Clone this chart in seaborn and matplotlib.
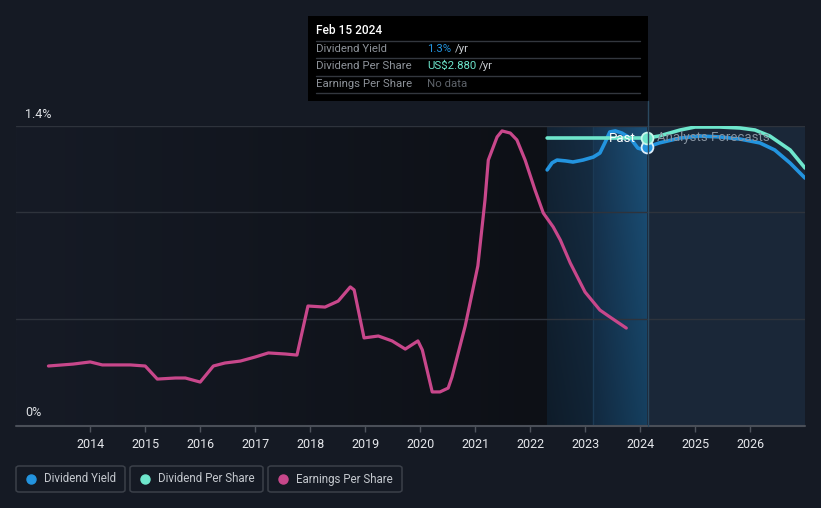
import numpy as np
import pandas as pd
import matplotlib
matplotlib.use("Agg")
import matplotlib.pyplot as plt
import seaborn as sns
from matplotlib.patches import Rectangle, FancyBboxPatch
from matplotlib.lines import Line2D
from matplotlib.colors import to_rgb

# ---------------- data ----------------
# Dividend Yield (%)
dy_years = [2022.31, 2022.40, 2022.49, 2022.65, 2022.78, 2022.96, 2023.15, 2023.27, 2023.36,
            2023.45, 2023.55, 2023.67, 2023.82, 2023.96, 2024.05, 2024.13,
            2024.35, 2024.73, 2025.09, 2025.45, 2025.82, 2026.18, 2026.45, 2026.73, 2027.0]
dy_values = [1.195, 1.228, 1.241, 1.237, 1.232, 1.241, 1.255, 1.274, 1.321,
             1.372, 1.377, 1.367, 1.344, 1.297, 1.290, 1.302,
             1.321, 1.344, 1.353, 1.349, 1.339, 1.321, 1.288, 1.227, 1.157]

# Dividend Per Share (US$)
dps_years = [2022.31, 2023.0, 2023.6, 2024.13, 2024.35, 2024.73, 2025.0, 2025.45,
             2025.82, 2026.09, 2026.36, 2026.73, 2027.0]
dps_values = [2.88, 2.88, 2.88, 2.88, 2.90, 2.96, 2.99, 2.99,
              2.98, 2.96, 2.90, 2.76, 2.58]

# Earnings Per Share (relative scale, no axis shown)
eps_years = [2013.24, 2013.69, 2014.0, 2014.22, 2014.73, 2015.0, 2015.22, 2015.55, 2015.73,
             2016.0, 2016.24, 2016.45, 2016.73, 2017.0, 2017.24, 2017.55, 2017.76, 2017.96,
             2018.27, 2018.51, 2018.73, 2018.8, 2018.98, 2019.24, 2019.49, 2019.73, 2019.96,
             2020.04, 2020.22, 2020.36, 2020.51, 2020.58, 2020.82, 2021.05, 2021.18, 2021.24,
             2021.4, 2021.49, 2021.64, 2021.76, 2021.91, 2022.09, 2022.24, 2022.42, 2022.55,
             2022.73, 2023.0, 2023.27, 2023.45, 2023.75]
eps_values = [0.280, 0.289, 0.299, 0.285, 0.285, 0.280, 0.219, 0.224, 0.224,
              0.205, 0.280, 0.294, 0.303, 0.322, 0.341, 0.336, 0.331, 0.560,
              0.555, 0.583, 0.649, 0.635, 0.411, 0.420, 0.397, 0.359, 0.397,
              0.355, 0.159, 0.159, 0.177, 0.229, 0.467, 0.747, 1.055, 1.241,
              1.349, 1.377, 1.367, 1.335, 1.241, 1.101, 0.994, 0.929, 0.868,
              0.761, 0.625, 0.541, 0.509, 0.457]

year_ticks = list(range(2014, 2027))
series_names = ["Dividend Yield", "Dividend Per Share", "Earnings Per Share"]

past_start = 2022.31
mid_split = 2023.15
today = 2024.13

# ---------------- style ----------------
BG = "#151a24"
BLUE = "#2394df"
TEAL = "#6ee6cc"
PINK = "#c8478b"

sns.set_theme(style="dark")
plt.rcParams["font.family"] = ["Roboto", "DejaVu Sans"]

W, H = 821, 508
fig = plt.figure(figsize=(W / 100, H / 100), dpi=100, facecolor=BG)

def fx(px):
    return px / W

def fy(py):
    return (H - py) / H

ax = fig.add_axes([fx(16), fy(426), fx(805) - fx(16), fy(126) - fy(426)])
ax.set_facecolor(BG)
xmin, xmax = 2012.65, 2027.0
ax.set_xlim(xmin, xmax)
ax.set_ylim(0, 1.4)
for s in ax.spines.values():
    s.set_visible(False)
ax.grid(False)

# background gradient (left lighter -> darker near 2022)
c0, c1 = np.array(to_rgb("#161b26")), np.array(to_rgb("#0d1016"))
t = np.linspace(0, 1, 200)[None, :, None]
grad = c0 + (c1 - c0) * t
ax.imshow(grad, extent=(xmin, past_start, 0, 1.4), aspect="auto", zorder=0, interpolation="bilinear")

# past shaded regions
def region(cl, cr, ctop_boost=1.08, cbot=0.85, n=100):
    cl, cr = np.array(to_rgb(cl)), np.array(to_rgb(cr))
    tx = np.linspace(0, 1, n)[None, :, None]
    ty = np.linspace(ctop_boost, cbot, n)[:, None, None]
    img = (cl + (cr - cl) * tx) * ty
    return np.clip(img, 0, 1)

ax.imshow(region("#112131", "#142a3f"), extent=(past_start, mid_split, 0, 1.4),
          aspect="auto", zorder=0.5, interpolation="bilinear")
ax.imshow(region("#15304a", "#194a6f"), extent=(mid_split, today, 0, 1.4),
          aspect="auto", zorder=0.5, interpolation="bilinear")
ax.axvline(mid_split, color="#1b3a55", lw=1, zorder=0.6)
ax.axvspan(today, xmax, color="#1a2738", zorder=0.5, lw=0)

# grid lines
for yv in [0.5, 1.0, 1.4]:
    ax.axhline(yv, color="#2e333c", lw=1, zorder=1)
ax.axhline(0, color="#4a4f58", lw=1.5, zorder=1, clip_on=False)

# lines
eps_df = pd.DataFrame({"year": eps_years, "value": eps_values})
dy_df = pd.DataFrame({"year": dy_years, "value": dy_values})
dps_df = pd.DataFrame({"year": dps_years, "value": dps_values})

sns.lineplot(data=eps_df, x="year", y="value", ax=ax, color=PINK, lw=2.3,
             solid_joinstyle="round", solid_capstyle="round", zorder=3, sort=False)
sns.lineplot(data=dy_df, x="year", y="value", ax=ax, color=BLUE, lw=2.6,
             solid_joinstyle="round", solid_capstyle="round", zorder=4, sort=False)

ax2 = ax.twinx()
ax2.set_ylim(0, 3.0)
ax2.set_xlim(xmin, xmax)
for s in ax2.spines.values():
    s.set_visible(False)
ax2.set_yticks([])
ax2.grid(False)
sns.lineplot(data=dps_df, x="year", y="value", ax=ax2, color=TEAL, lw=2.6,
             solid_joinstyle="round", solid_capstyle="round", zorder=4, sort=False)
ax2.set_ylabel("")
ax2.set_xlabel("")

# markers at today
ax.plot([today], [dy_values[dy_years.index(today)]], "o", ms=8.5, mfc=BLUE,
        mec="#dfeefa", mew=1.3, zorder=6)
ax2.plot([today], [dps_values[dps_years.index(today)]], "o", ms=8.5, mfc=TEAL,
         mec="#c9f6ec", mew=1.3, zorder=6)

# Past / Analysts Forecasts labels
ax2.text(today - 0.2, 2.88, "Past", color="white", fontsize=9.5, ha="right",
         va="center", zorder=7)
ax2.text(today + 0.17, 2.88, "Analysts Forecasts", color="#8793a0", fontsize=9.5,
         ha="left", va="center", zorder=7)

# axes ticks
ax.set_xticks(year_ticks)
ax.set_xticklabels([str(y) for y in year_ticks], fontsize=9)
ax.tick_params(axis="x", which="both", direction="out", length=4, width=1,
               color="#4f545d", labelcolor="#e6e8ec", pad=5, bottom=True)
ax.set_yticks([])
ax.set_xlabel("")
ax.set_ylabel("")

# y labels
fig.text(fx(25), fy(114), "1.4%", color="#dfe2e6", fontsize=9, va="center", ha="left")
fig.text(fx(25), fy(413), "0%", color="#dfe2e6", fontsize=9, va="center", ha="left")

# vertical today line in figure coords
fig.add_artist(Line2D([fx(648), fx(648)], [fy(101), fy(426)], color="#2a4960", lw=1, zorder=2))

# tooltip
fig.add_artist(Rectangle((fx(308), fy(101)), fx(648) - fx(308), fy(16) - fy(101),
                         transform=fig.transFigure, facecolor="black", edgecolor="none", zorder=10))
fig.text(fx(316), fy(31), "Feb 15 2024", color="white", fontsize=8.6, va="center",
         ha="left", zorder=11, fontweight="medium")
for ly in [41, 58, 76, 93]:
    fig.add_artist(Line2D([fx(316), fx(640)], [fy(ly), fy(ly)], color="#33373e", lw=1, zorder=11))
rows_y = [49, 66, 84]
for name, ry in zip(series_names, rows_y):
    fig.text(fx(316), fy(ry), name, color="#8d9299", fontsize=8.2, va="center", ha="left", zorder=11)
fig.text(fx(427), fy(49), "1.3%", color=BLUE, fontsize=8.2, va="center", ha="left", zorder=11)
fig.text(fx(455), fy(49), "/yr", color="#c8ccd1", fontsize=8.2, va="center", ha="left", zorder=11)
fig.text(fx(427), fy(66), "US$2.880", color=TEAL, fontsize=8.2, va="center", ha="left", zorder=11)
fig.text(fx(479), fy(66), "/yr", color="#c8ccd1", fontsize=8.2, va="center", ha="left", zorder=11)
fig.text(fx(427), fy(84), "No data", color="#5e636a", fontsize=8.2, va="center", ha="left", zorder=11)

# legend boxes
legend_boxes = [(16, 125), (130, 263), (268, 402)]
legend_colors = [BLUE, TEAL, PINK]
for (x0, x1), name, col in zip(legend_boxes, series_names, legend_colors):
    fig.add_artist(FancyBboxPatch((fx(x0), fy(492)), fx(x1) - fx(x0), fy(466) - fy(492),
                                  boxstyle="round,pad=0,rounding_size=0.004",
                                  transform=fig.transFigure, facecolor="none",
                                  edgecolor="#3b4049", lw=1.1))
    fig.add_artist(Line2D([fx(x0 + 15)], [fy(479)], marker="o", ms=6.5, color=col, mec=col))
    fig.text(fx(x0 + 28), fy(479), name, color="#c4c8ce", fontsize=8.3,
             va="center", ha="left")

fig.savefig("out.png", dpi=100, facecolor=BG)
